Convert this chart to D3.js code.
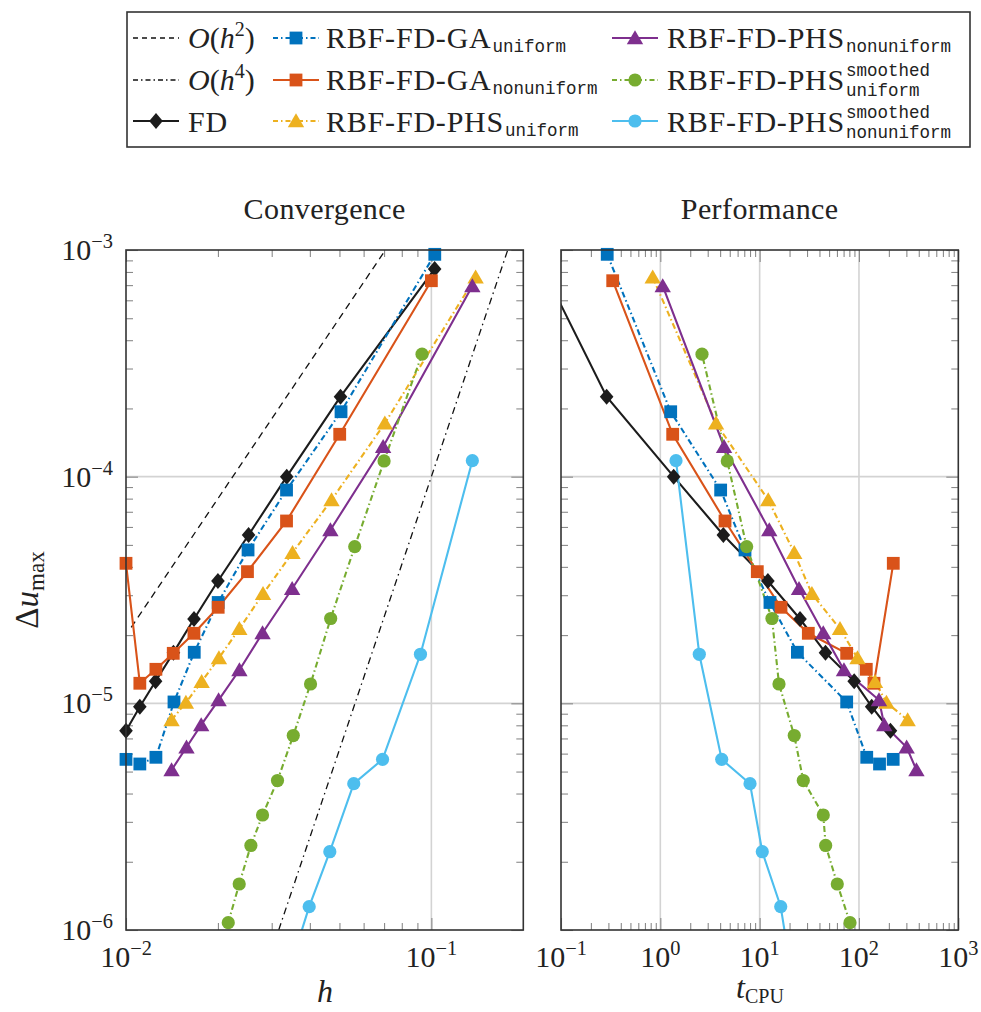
<!DOCTYPE html>
<html>
<head>
<meta charset="utf-8">
<script src="https://cdn.jsdelivr.net/npm/d3@7"></script>
<style>
  body { margin: 0; background: #fff; }
  svg { display: block; }
</style>
</head>
<body>
<script>
// ---- Measured data: grid spacing h, max error, CPU time ----
const hFD   = [0.0100, 0.0111, 0.0125, 0.0143, 0.0167, 0.0200, 0.0252, 0.0336, 0.0504, 0.1025];
const errFD = [7.57e-6, 9.66e-6, 1.251e-5, 1.673e-5, 2.355e-5, 3.465e-5, 5.53e-5, 1.0e-4, 2.253e-4, 8.245e-4];
const tFD   = [207.5, 134.3, 89.5, 46.0, 25.5, 12.1, 4.31, 1.363, 0.288, 0.066];

const hGAu   = [0.0100, 0.0111, 0.01253, 0.01436, 0.01673, 0.02004, 0.0251, 0.03355, 0.0506, 0.1026];
const errGAu = [5.66e-6, 5.40e-6, 5.78e-6, 1.014e-5, 1.68e-5, 2.786e-5, 4.75e-5, 8.73e-5, 1.934e-4, 9.57e-4];
const tGAu   = [221, 161, 119.7, 75.2, 24.0, 12.7, 7.12, 4.05, 1.272, 0.292];

const hGAn   = [0.0100, 0.0111, 0.01253, 0.01428, 0.01669, 0.02004, 0.02499, 0.03355, 0.0501, 0.1000];
const errGAn = [4.147e-5, 1.226e-5, 1.413e-5, 1.662e-5, 2.037e-5, 2.653e-5, 3.81e-5, 6.375e-5, 1.538e-4, 7.32e-4];
const tGAn   = [221.5, 141.6, 118.5, 75.2, 30.9, 16.4, 9.47, 4.48, 1.332, 0.3316];

const hPHSu   = [0.0141, 0.01571, 0.01769, 0.02015, 0.0235, 0.0281, 0.0351, 0.0471, 0.0704, 0.1396];
const errPHSu = [8.44e-6, 1.0085e-5, 1.246e-5, 1.585e-5, 2.13e-5, 3.04e-5, 4.62e-5, 7.89e-5, 1.72e-4, 7.58e-4];
const tPHSu   = [309, 189, 145, 96.6, 64.4, 33.6, 22.3, 12.2, 3.64, 0.838];

const hPHSn   = [0.0141, 0.01578, 0.01763, 0.0201, 0.02352, 0.0280, 0.0350, 0.0467, 0.0695, 0.1362];
const errPHSn = [5.08e-6, 6.40e-6, 8.03e-6, 1.034e-5, 1.403e-5, 2.043e-5, 3.204e-5, 5.815e-5, 1.356e-4, 6.94e-4];
const tPHSn   = [379, 302, 179.8, 159, 70.6, 43.7, 24.9, 12.5, 4.38, 1.057];

const hSmU   = [0.02162, 0.02348, 0.02564, 0.0280, 0.03134, 0.0353, 0.0402, 0.0468, 0.0561, 0.0700, 0.0932];
const errSmU = [1.077e-6, 1.596e-6, 2.36e-6, 3.217e-6, 4.565e-6, 7.21e-6, 1.217e-5, 2.367e-5, 4.91e-5, 1.173e-4, 3.47e-4];
const tSmU   = [81.2, 60.5, 46.2, 43.7, 27.5, 22.3, 15.66, 13.3, 7.40, 4.72, 2.627];

const hSmN   = [0.0350, 0.0398, 0.0465, 0.0557, 0.0692, 0.0921, 0.1362];
const errSmN = [7.3e-7, 1.267e-6, 2.215e-6, 4.42e-6, 5.66e-6, 1.646e-5, 1.176e-4];
const tSmN   = [19.9, 16.3, 10.63, 8.0, 4.15, 2.468, 1.438];

// Reference slopes: err = C * h^p
const refH2 = { C: 0.2, p: 2, hFrom: 0.0104, hTo: 0.2 };
const refH4 = { C: 1.0, p: 4, hFrom: 0.01, hTo: 0.2 };

// Tick exponents
const expXL = [-2, -1];
const expXR = [-1, 0, 1, 2, 3];
const expY  = [-6, -5, -4, -3];

const titles = ["Convergence", "Performance"];

// ---- Styling ----
const W = 981, H = 1012;
const SERIF = "'Liberation Serif', 'Times New Roman', serif";
const MONO = "'Liberation Mono', 'DejaVu Sans Mono', monospace";
const DASHDOT = "6,3,1.5,3";

const series = [
  { main: "FD", sub: null, sup: null, h: hFD, err: errFD, t: tFD, color: "#1c1c1c", dash: null, mark: "diamond" },
  { main: "RBF-FD-GA", sub: "uniform", sup: null, h: hGAu, err: errGAu, t: tGAu, color: "#0072BD", dash: DASHDOT, mark: "square" },
  { main: "RBF-FD-GA", sub: "nonuniform", sup: null, h: hGAn, err: errGAn, t: tGAn, color: "#D95319", dash: null, mark: "square" },
  { main: "RBF-FD-PHS", sub: "uniform", sup: null, h: hPHSu, err: errPHSu, t: tPHSu, color: "#EDB120", dash: DASHDOT, mark: "triangle" },
  { main: "RBF-FD-PHS", sub: "nonuniform", sup: null, h: hPHSn, err: errPHSn, t: tPHSn, color: "#7E2F8E", dash: null, mark: "triangle" },
  { main: "RBF-FD-PHS", sub: "uniform", sup: "smoothed", h: hSmU, err: errSmU, t: tSmU, color: "#77AC30", dash: DASHDOT, mark: "circle" },
  { main: "RBF-FD-PHS", sub: "nonuniform", sup: "smoothed", h: hSmN, err: errSmN, t: tSmN, color: "#4DBEEE", dash: null, mark: "circle" }
];

function markPath(type) {
  switch (type) {
    case "square": return "M-6.4,-6.4H6.4V6.4H-6.4Z";
    case "diamond": return "M0,-8L6.8,0L0,8L-6.8,0Z";
    case "triangle": return "M0,-7.8L8.2,6.2L-8.2,6.2Z";
    case "circle": return "M6.6,0A6.6,6.6 0 1,1 -6.6,0A6.6,6.6 0 1,1 6.6,0Z";
  }
}

const svg = d3.select("body").append("svg").attr("width", W).attr("height", H);

const y = d3.scaleLog().domain([1e-6, 1e-3]).range([930, 250]);
const xL = d3.scaleLog().domain([0.01, 0.2]).range([126, 523.3]);
const xR = d3.scaleLog().domain([0.1, 1000]).range([561, 958.3]);

function minorsBetween(lo, hi) {
  const out = [];
  for (let e = Math.floor(Math.log10(lo)); e < Math.ceil(Math.log10(hi)); e++) {
    for (let k = 2; k <= 9; k++) {
      const v = k * Math.pow(10, e);
      if (v > lo * 1.0001 && v < hi * 0.9999) out.push(v);
    }
  }
  return out;
}

function powText(sel, exp, size) {
  sel.append("tspan").text("10");
  sel.append("tspan").attr("dy", -12).attr("font-size", size * 0.68)
    .text(exp < 0 ? "\u2212" + Math.abs(exp) : String(exp));
}

function panel(x, key, exps, showY, title, clipId) {
  const [x0, x1] = x.range();
  const [yb, yt] = y.range();
  const g = svg.append("g");

  svg.append("clipPath").attr("id", clipId).append("rect")
    .attr("x", x0).attr("y", yt).attr("width", x1 - x0).attr("height", yb - yt);

  const majX = exps.map(e => Math.pow(10, e));
  const majY = expY.map(e => Math.pow(10, e));
  const xd = x.domain(), yd = y.domain();

  // grid at interior decades
  g.append("g").selectAll("line").data(majX.filter(v => v > xd[0] * 1.001 && v < xd[1] * 0.999)).join("line")
    .attr("x1", d => x(d)).attr("x2", d => x(d)).attr("y1", yt).attr("y2", yb)
    .attr("stroke", "#d3d3d3").attr("stroke-width", 1.6);
  g.append("g").selectAll("line").data(majY.filter(v => v > yd[0] * 1.001 && v < yd[1] * 0.999)).join("line")
    .attr("y1", d => y(d)).attr("y2", d => y(d)).attr("x1", x0).attr("x2", x1)
    .attr("stroke", "#d3d3d3").attr("stroke-width", 1.6);

  // inward ticks on all four sides
  const tickStyle = s => s.call(a => a.select(".domain").remove())
    .selectAll(".tick line").attr("stroke", "#8a8a8a").attr("stroke-width", 1.1);
  const minX = minorsBetween(xd[0], xd[1]);
  const minY = minorsBetween(yd[0], yd[1]);
  [[d3.axisBottom(x), yb], [d3.axisTop(x), yt]].forEach(([gen, ty]) => {
    g.append("g").attr("transform", `translate(0,${ty})`)
      .call(gen.tickValues(majX).tickSize(-12).tickFormat("")).call(tickStyle);
    g.append("g").attr("transform", `translate(0,${ty})`)
      .call(gen.tickValues(minX).tickSize(-7).tickFormat("")).call(tickStyle);
  });
  [[d3.axisLeft(y), x0], [d3.axisRight(y), x1]].forEach(([gen, tx]) => {
    g.append("g").attr("transform", `translate(${tx},0)`)
      .call(gen.tickValues(majY).tickSize(-12).tickFormat("")).call(tickStyle);
    g.append("g").attr("transform", `translate(${tx},0)`)
      .call(gen.tickValues(minY).tickSize(-7).tickFormat("")).call(tickStyle);
  });

  // tick labels
  exps.forEach(e => {
    const t = g.append("text").attr("x", x(Math.pow(10, e))).attr("y", 967)
      .attr("text-anchor", "middle").attr("font-family", SERIF).attr("font-size", 30).attr("fill", "#222");
    powText(t, e, 30);
  });
  if (showY) {
    expY.forEach(e => {
      const t = g.append("text").attr("x", 113).attr("y", y(Math.pow(10, e)) + 10)
        .attr("text-anchor", "end").attr("font-family", SERIF).attr("font-size", 30).attr("fill", "#222");
      powText(t, e, 30);
    });
  }

  // title
  g.append("text").attr("x", (x0 + x1) / 2).attr("y", 219).attr("text-anchor", "middle")
    .attr("font-family", SERIF).attr("font-size", 30).attr("letter-spacing", 0.4).attr("fill", "#222").text(title);

  const plot = g.append("g");
  const lines = plot.append("g").attr("clip-path", `url(#${clipId})`);

  // reference slopes on the convergence panel
  if (key === "h") {
    [[refH2, "7,5"], [refH4, "7,4,1.5,4"]].forEach(([r, dash]) => {
      const hs = [r.hFrom, r.hTo];
      lines.append("path")
        .attr("d", d3.line().x(d => x(d)).y(d => y(r.C * Math.pow(d, r.p)))(hs))
        .attr("fill", "none").attr("stroke", "#111").attr("stroke-width", 1.3).attr("stroke-dasharray", dash);
    });
  }

  series.forEach(s => {
    const pts = s.h.map((h, i) => ({ xv: key === "h" ? h : s.t[i], yv: s.err[i] }));
    lines.append("path")
      .attr("d", d3.line().x(d => x(d.xv)).y(d => y(d.yv))(pts))
      .attr("fill", "none").attr("stroke", s.color).attr("stroke-width", 2.1)
      .attr("stroke-dasharray", s.dash);
    const inside = pts.filter(d => d.xv >= xd[0] * 0.98 && d.xv <= xd[1] * 1.02 && d.yv >= yd[0] * 0.97 && d.yv <= yd[1] * 1.03);
    plot.append("g").selectAll("path").data(inside).join("path")
      .attr("transform", d => `translate(${x(d.xv)},${y(d.yv)})`)
      .attr("d", markPath(s.mark)).attr("fill", s.color);
  });

  // frame
  g.append("rect").attr("x", x0).attr("y", yt).attr("width", x1 - x0).attr("height", yb - yt)
    .attr("fill", "none").attr("stroke", "#333").attr("stroke-width", 1.6);
}

panel(xL, "h", expXL, true, titles[0], "clipL");
panel(xR, "t", expXR, false, titles[1], "clipR");

// axis labels
svg.append("text").attr("x", 325).attr("y", 1002).attr("text-anchor", "middle")
  .attr("font-family", SERIF).attr("font-size", 32).attr("font-style", "italic").attr("fill", "#222").text("h");
const lt = svg.append("text").attr("x", 760).attr("y", 998).attr("text-anchor", "middle")
  .attr("font-family", SERIF).attr("font-size", 32).attr("fill", "#222");
lt.append("tspan").attr("font-style", "italic").text("t");
lt.append("tspan").attr("dy", 5).attr("font-size", 20).text("CPU");
const ly = svg.append("text").attr("transform", "translate(38,590) rotate(-90)").attr("text-anchor", "middle")
  .attr("font-family", SERIF).attr("font-size", 33).attr("fill", "#222");
ly.append("tspan").text("\u0394");
ly.append("tspan").attr("font-style", "italic").text("u");
ly.append("tspan").attr("dy", 6).attr("font-size", 23).text("max");

// ---- Legend ----
const leg = svg.append("g");
leg.append("rect").attr("x", 127).attr("y", 12).attr("width", 843).attr("height", 135)
  .attr("fill", "#fff").attr("stroke", "#333").attr("stroke-width", 1.6);

const colSample = [133, 273, 612];
const colText = [188, 326, 667];
const rowBase = [48, 90, 132];
const rowLine = [38, 80, 121];
const SAMPLE = 46;

const entries = [
  { kind: "ref", p: 2, dash: "5,4" },
  { kind: "ref", p: 4, dash: "5,3,1.5,3" },
  ...series.map(s => ({ kind: "series", s }))
];

entries.forEach((en, i) => {
  const col = Math.floor(i / 3), row = i % 3;
  const sx = colSample[col], ly0 = rowLine[row], tx = colText[col], by = rowBase[row];
  if (en.kind === "ref") {
    leg.append("line").attr("x1", sx).attr("x2", sx + SAMPLE).attr("y1", ly0).attr("y2", ly0)
      .attr("stroke", "#111").attr("stroke-width", 1.3).attr("stroke-dasharray", en.dash);
    const t = leg.append("text").attr("x", tx).attr("y", by).attr("font-family", SERIF)
      .attr("font-size", 30).attr("fill", "#222");
    t.append("tspan").attr("font-style", "italic").text("O");
    t.append("tspan").text("(");
    t.append("tspan").attr("font-style", "italic").text("h");
    t.append("tspan").attr("dy", -12).attr("font-size", 20).text(String(en.p));
    t.append("tspan").attr("dy", 12).text(")");
  } else {
    const s = en.s;
    leg.append("line").attr("x1", sx).attr("x2", sx + SAMPLE).attr("y1", ly0).attr("y2", ly0)
      .attr("stroke", s.color).attr("stroke-width", 2.1).attr("stroke-dasharray", s.dash ? "5,3,1.5,3" : null);
    leg.append("path").attr("transform", `translate(${sx + SAMPLE / 2},${ly0})`)
      .attr("d", markPath(s.mark)).attr("fill", s.color);
    const t = leg.append("text").attr("x", tx).attr("y", by).attr("font-family", SERIF)
      .attr("font-size", 30).attr("letter-spacing", 0.8).attr("fill", "#222").text(s.main);
    const w = t.node().getComputedTextLength();
    if (s.sup) {
      leg.append("text").attr("x", tx + w + 1).attr("y", by - 14).attr("font-family", MONO)
        .attr("font-size", 17.5).attr("fill", "#222").text(s.sup);
      leg.append("text").attr("x", tx + w + 1).attr("y", by + 6).attr("font-family", MONO)
        .attr("font-size", 17.5).attr("fill", "#222").text(s.sub);
    } else if (s.sub) {
      leg.append("text").attr("x", tx + w + 1).attr("y", by + 4).attr("font-family", MONO)
        .attr("font-size", 17.5).attr("fill", "#222").text(s.sub);
    }
  }
});
</script>
</body>
</html>
